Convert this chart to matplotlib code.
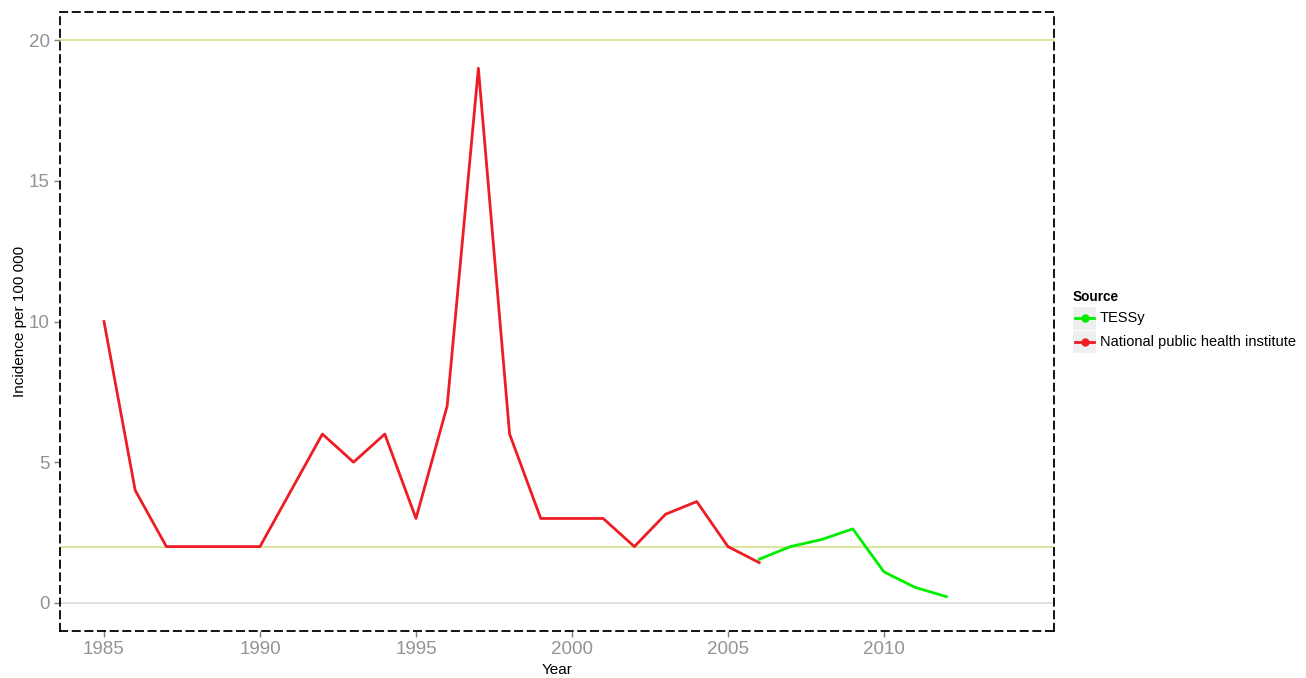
import matplotlib
matplotlib.use("Agg")
import matplotlib.pyplot as plt
from matplotlib.lines import Line2D
from matplotlib.patches import Rectangle

years_nphi = [1985, 1986, 1987, 1988, 1989, 1990, 1991, 1992, 1993, 1994, 1995,
              1996, 1997, 1998, 1999, 2000, 2001, 2002, 2003, 2004, 2005, 2006]
incidence_nphi = [10, 4, 2, 2, 2, 2, 4, 6, 5, 6, 3,
                  7, 19, 6, 3, 3, 3, 2, 3.15, 3.6, 2, 1.43]

years_tessy = [2006, 2007, 2008, 2009, 2010, 2011, 2012]
incidence_tessy = [1.55, 2.0, 2.25, 2.63, 1.1, 0.55, 0.22]

ref_levels = [2, 20]
x_ticks = [1985, 1990, 1995, 2000, 2005, 2010]
y_ticks = [0, 5, 10, 15, 20]

RED = "#ee1c25"
GREEN = "#00ee00"
plt.rcParams["font.family"] = ["Liberation Sans", "DejaVu Sans"]

fig = plt.figure(figsize=(13.06, 6.78), dpi=100)
ax = fig.add_axes([60 / 1306, 1 - 631 / 678, 994 / 1306, 619 / 678])

ax.axhline(0, color="#dcdcdc", lw=1.2, zorder=1)
for lvl in ref_levels:
    ax.axhline(lvl, color="#d6e08a", lw=1.2, zorder=1)

ax.plot(years_nphi, incidence_nphi, color=RED, lw=2, zorder=3)
ax.plot(years_tessy, incidence_tessy, color=GREEN, lw=2, zorder=3)

ax.set_xlim(1983.59, 2015.45)
ax.set_ylim(-1.0, 21.0)
ax.set_xticks(x_ticks)
ax.set_yticks(y_ticks)
ax.tick_params(axis="both", colors="#7f7f7f", labelsize=13.5, length=4, width=1)
for lbl in ax.get_xticklabels() + ax.get_yticklabels():
    lbl.set_color("#939393")

for sp in ax.spines.values():
    sp.set_linestyle((0, (4, 3)))
    sp.set_linewidth(1.3)
    sp.set_color("black")

ax.set_xlabel("Year", fontsize=11, labelpad=3)
ax.set_ylabel("Incidence per 100 000", fontsize=11)
ax.yaxis.set_label_coords(-33 / 994, 0.5)

# legend, drawn by hand so the keys get the grey ggplot boxes
W, H = 1306, 678
fig.text(1073 / W, 1 - 297 / H, "Source", fontsize=9.8, fontweight="bold",
         va="center", ha="left")
for i, (name, col) in enumerate([("TESSy", GREEN), ("National public health institute", RED)]):
    top = 307 + i * 23.5
    fig.add_artist(Rectangle((1073 / W, 1 - (top + 22.5) / H), 23 / W, 22.5 / H,
                             transform=fig.transFigure, facecolor="#efefef",
                             edgecolor="none", zorder=0))
    yc = 1 - (top + 11.5) / H
    fig.add_artist(Line2D([1075 / W, 1094 / W], [yc, yc], transform=fig.transFigure,
                          color=col, lw=2, zorder=2))
    fig.add_artist(Line2D([1084.5 / W], [yc], transform=fig.transFigure,
                          color=col, marker="o", markersize=5, lw=0, zorder=3))
    fig.text(1100 / W, yc, name, fontsize=10.5, va="center", ha="left")

fig.savefig("out.png", dpi=100)
